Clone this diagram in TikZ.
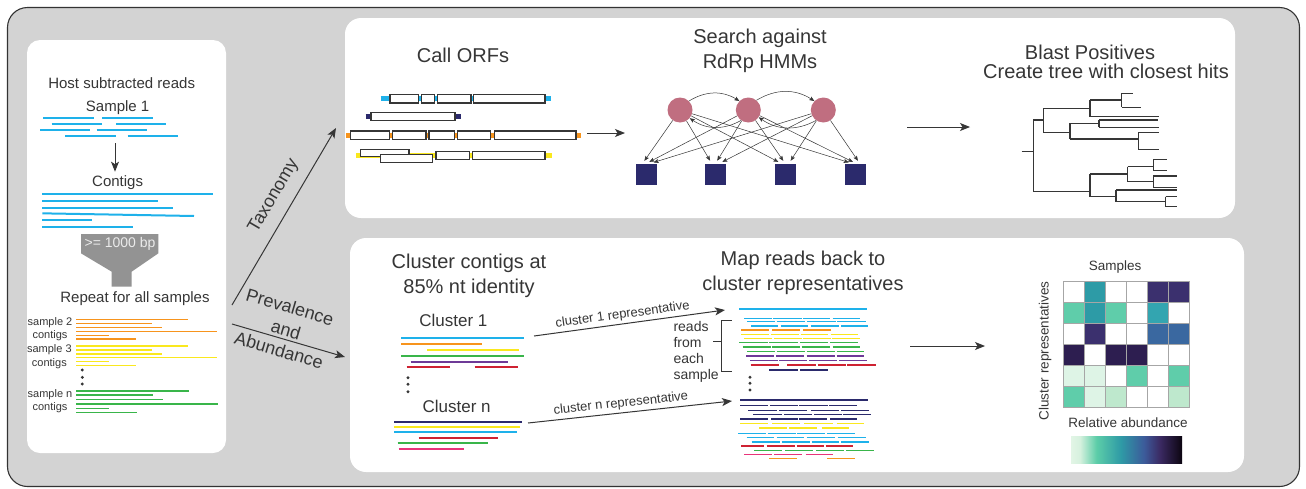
\documentclass[tikz,border=0pt]{standalone}
\usepackage{fontspec}
\setmainfont{Liberation Sans}
\usetikzlibrary{arrows.meta}

\definecolor{txt}{HTML}{363636}
\definecolor{bggray}{HTML}{D3D3D3}
\definecolor{rcyan}{HTML}{1EB1EA}
\definecolor{rorange}{HTML}{F7941D}
\definecolor{ryellow}{HTML}{FAE81E}
\definecolor{rgreen}{HTML}{39B54A}
\definecolor{rpurple}{HTML}{6E3A97}
\definecolor{rred}{HTML}{CE2232}
\definecolor{rnavy}{HTML}{2B2A6C}
\definecolor{rpink}{HTML}{E8347A}
\definecolor{hmmpink}{HTML}{C06E80}
\definecolor{funnelgray}{HTML}{939393}
% heat map cell colours
\definecolor{hteal}{HTML}{2D9BA6}
\definecolor{hteallt}{HTML}{33A5B0}
\definecolor{hdp}{HTML}{3B306E}
\definecolor{hmint}{HTML}{5FCDAA}
\definecolor{hblue}{HTML}{3A68A0}
\definecolor{hvd}{HTML}{2D1E50}
\definecolor{hvl}{HTML}{DEF4E6}
\definecolor{hlm}{HTML}{BEE8CD}
% relative abundance scale
\definecolor{ab0}{HTML}{E2F5E6}
\definecolor{ab1}{HTML}{D6F1DE}
\definecolor{ab2}{HTML}{5CCDA8}
\definecolor{ab3}{HTML}{2E9AA6}
\definecolor{ab4}{HTML}{3C5A9A}
\definecolor{ab5}{HTML}{3B2A63}
\definecolor{ab6}{HTML}{0C0510}
\pgfdeclarehorizontalshading{abund}{100bp}{color(0bp)=(ab0); color(25bp)=(ab0); color(29bp)=(ab1); color(36.5bp)=(ab2); color(47.5bp)=(ab3); color(58bp)=(ab4); color(65bp)=(ab5); color(75bp)=(ab6); color(100bp)=(ab6)}

\tikzset{
  lbl/.style={text=txt, inner sep=0pt},
  ttl/.style={lbl, font=\fontsize{20}{25}\selectfont, align=center},
  mid/.style={lbl, font=\fontsize{15}{18}\selectfont},
  tiny/.style={lbl, font=\fontsize{11}{13.5}\selectfont, align=center},
  small/.style={lbl, font=\fontsize{13.5}{16}\selectfont},
  bigarrow/.style={draw=txt, line width=1pt, -{Stealth[length=10pt,width=8pt,inset=2.5pt]}},
  smallarrow/.style={draw=txt, line width=0.5pt, -{Stealth[length=5pt,width=4pt,inset=1pt]}},
  orfbox/.style={draw=txt, line width=1.1pt, fill=white},
  wpanel/.style={fill=white},
  hmmstate/.style={circle, fill=hmmpink, minimum size=25pt, inner sep=0pt},
  hmmemit/.style={rectangle, fill=rnavy, minimum size=21pt, inner sep=0pt},
  dot/.style={fill=txt},
}

\begin{document}
\begin{tikzpicture}[x=1pt,y=-1pt]
\useasboundingbox (0,0) rectangle (1306,488);

% frame and panels
\draw[line width=1.1pt, draw=black!80, fill=bggray, rounded corners=20pt] (7.5,7.5) rectangle (1299.5,486.5);
\fill[wpanel, rounded corners=13pt] (27,40) rectangle (226,453);
\fill[wpanel, rounded corners=16pt] (345,18) rectangle (1235,218);
\fill[wpanel, rounded corners=16pt] (350,238) rectangle (1244,472);

% ---------------- assembly panel ----------------
\begin{scope}[shift={(20,30)}, x=0.33333pt, y=-0.33333pt]
  \node[mid] (host) at (305,158) {Host subtracted reads};
  \node[mid] (samp1) at (293,232) {Sample 1};
  \foreach \yy/\segs in {263/{70/221,247/398}, 281/{95/245,289/438}, 299/{60/210,230/382}, 318/{135/287,323/475}}
    \foreach \a/\b in \segs
      \draw[rcyan, line width=2pt] (\a,\yy) -- (\b,\yy);
  \coordinate (asm0) at (285,340);
  \coordinate (asm1) at (285,425);
  \draw[bigarrow] (asm0) -- (asm1);
  \node[mid] (contigs) at (293,458) {Contigs};
  \foreach \yy/\b in {493/578, 513/414, 533/460, 570/216, 591/340}
    \draw[rcyan, line width=2pt] (67,\yy) -- (\b,\yy);
  \draw[rcyan, line width=2pt] (67,550) -- (522,558);
\end{scope}

\begin{scope}[shift={(20,240)}, x=0.33333pt, y=-0.33333pt]
  \fill[funnelgray] (183,-18) -- (415,-18) -- (415,40) -- (335,95) -- (335,140)
    -- (275,140) -- (275,95) -- (183,40) -- cycle;
  \node[lbl, text=white!92!black, font=\fontsize{14}{16}\selectfont] (filt) at (300,13) {>= 1000 bp};
  \node[mid] (repeat) at (345,175) {Repeat for all samples};
  \node[tiny] (lab2) at (90,267) {sample 2\\contigs};
  \node[tiny] (lab3) at (88,350) {sample 3\\contigs};
  \node[tiny] (labn) at (90,484) {sample n\\contigs};
  \foreach \yy/\b in {238/503, 250/396, 262/427, 274/590, 286/266, 297/347}
    \draw[rorange, line width=1.6pt] (168,\yy) -- (\b,\yy);
  \foreach \yy/\b in {318/503, 330/396, 342/427, 353/590, 365/266, 376/347}
    \draw[ryellow, line width=1.6pt] (168,\yy) -- (\b,\yy);
  \foreach \yy/\b in {453/508, 465/398, 478/430, 492/595, 505/267, 517/350}
    \draw[rgreen, line width=1.6pt] (168,\yy) -- (\b,\yy);
  \foreach \yy in {390,412,432}
    \fill[dot] (187,\yy) circle[radius=1.6pt];
\end{scope}

% ---------------- branch arrows ----------------
\coordinate (tx0) at (232,305);
\coordinate (tx1) at (336,128);
\draw[bigarrow] (tx0) -- (tx1);
\node[lbl, rotate=59.6, font=\fontsize{18}{20}\selectfont] (taxo) at (274,196) {Taxonomy};
\coordinate (pa0) at (232,324);
\coordinate (pa1) at (345,357);
\draw[bigarrow] (pa0) -- (pa1);
\node[lbl, rotate=-16.3, font=\fontsize{18}{20}\selectfont] (prev) at (290,307) {Prevalence};
\node[lbl, rotate=-16.3, font=\fontsize{18}{20}\selectfont] (andw) at (286,330) {and};
\node[lbl, rotate=-16.3, font=\fontsize{18}{20}\selectfont] (abun) at (279,350) {Abundance};

% ---------------- ORF calling ----------------
\node[ttl] (orf) at (463,55) {Call ORFs};
\begin{scope}[shift={(340,20)}, x=0.33333pt, y=-0.33333pt]
  \draw[rcyan, line width=5pt] (122,236) -- (632,236);
  \foreach \a/\b in {150/235, 245/283, 292/393, 401/615}
    \draw[orfbox] (\a,223) rectangle (\b,249);
  \draw[rnavy, line width=5pt] (77,290) -- (362,290);
  \draw[orfbox] (93,278) rectangle (345,302);
  \draw[rorange, line width=5pt] (18,346) -- (722,346);
  \foreach \a/\b in {32/148, 158/258, 267/343, 352/452, 464/708}
    \draw[orfbox] (\a,333) rectangle (\b,359);
  \draw[ryellow, line width=5pt] (48,407) -- (636,407);
  \draw[orfbox] (62,388) rectangle (207,410);
  \draw[orfbox] (122,403) rectangle (278,428);
  \draw[orfbox] (288,395) rectangle (388,418);
  \draw[orfbox] (397,395) rectangle (615,418);
\end{scope}
\coordinate (orfout) at (587,133);
\coordinate (hmmin) at (625,133);
\draw[bigarrow] (orfout) -- (hmmin);

% ---------------- HMM search ----------------
\node[ttl] (hmmttl) at (760,50.5) {Search against\\RdRp HMMs};
\begin{scope}[shift={(580,20)}, x=0.33333pt, y=-0.33333pt]
  \node[hmmstate] (c1) at (300,270) {};
  \node[hmmstate] (c2) at (505,270) {};
  \node[hmmstate] (c3) at (730,270) {};
  \node[hmmemit] (s1) at (200,462) {};
  \node[hmmemit] (s2) at (407,462) {};
  \node[hmmemit] (s3) at (615,462) {};
  \node[hmmemit] (s4) at (827,462) {};
\end{scope}
\foreach \c/\dx in {c1/-4, c2/0, c3/4}
  \foreach \s in {s1,s2,s3,s4}
    \draw[smallarrow, shorten >=3pt] (\c) -- ([xshift=\dx pt]\s.north);
\draw[smallarrow] (c1.45) to[bend left=32] (c2.135);
\draw[smallarrow] (c2.50) to[bend left=32] (c3.135);
\draw[smallarrow] (c2.235) to[bend left=32] (c1.-40);
\draw[smallarrow] (c3.235) to[bend left=32] (c2.-35);

\coordinate (hmmout) at (907,127);
\coordinate (treein) at (970,127);
\draw[bigarrow] (hmmout) -- (treein);

% ---------------- tree ----------------
\node[ttl] (blast) at (1090,52) {Blast Positives};
\node[ttl] (treettl) at (1106,71) {Create tree with closest hits};
\begin{scope}[shift={(900,20)}, x=0.33333pt, y=-0.33333pt]
  \draw[txt, line width=1.3pt, line cap=square]
    (365,395) -- (400,395)
    (400,300) -- (400,515)
    (400,300) -- (430,300)
    (430,265) -- (430,337)
    (430,265) -- (570,265)
    (570,240) -- (570,290)
    (570,240) -- (665,240)
    (665,220) -- (665,262)
    (665,220) -- (700,220)
    (665,262) -- (722,262)
    (570,290) -- (778,290)
    (430,337) -- (510,337)
    (510,310) -- (510,357)
    (510,310) -- (597,310)
    (597,300) -- (597,322)
    (597,300) -- (775,300)
    (597,322) -- (778,322)
    (510,357) -- (715,357)
    (715,338) -- (715,388)
    (715,338) -- (778,338)
    (715,388) -- (778,388)
    (400,515) -- (570,515)
    (570,462) -- (570,530)
    (570,462) -- (683,462)
    (683,440) -- (683,485)
    (683,440) -- (760,440)
    (760,418) -- (760,452)
    (760,418) -- (800,418)
    (760,452) -- (800,452)
    (683,485) -- (760,485)
    (760,468) -- (760,502)
    (760,468) -- (832,468)
    (760,502) -- (832,502)
    (570,530) -- (648,530)
    (648,510) -- (648,545)
    (648,510) -- (832,510)
    (648,545) -- (797,545)
    (797,530) -- (797,560)
    (797,530) -- (832,530)
    (797,560) -- (832,560);
\end{scope}

% ---------------- clustering ----------------
\node[ttl] (clttl) at (469,275.5) {Cluster contigs at\\85\% nt identity};
\begin{scope}[shift={(340,240)}, x=0.33333pt, y=-0.33333pt]
  \node[lbl, font=\fontsize{17}{20}\selectfont] (cl1) at (340,240) {Cluster 1};
  \node[lbl, font=\fontsize{17}{20}\selectfont] (cln) at (350,500) {Cluster n};
  \draw[rcyan, line width=1.7pt] (183,294) -- (553,294);
  \draw[rorange, line width=1.7pt] (183,312) -- (426,312);
  \draw[ryellow, line width=1.7pt] (262,329) -- (536,329);
  \draw[rgreen, line width=1.7pt] (183,347) -- (553,347);
  \draw[rpurple, line width=1.7pt] (212,365) -- (505,365);
  \draw[rred, line width=1.7pt] (200,382) -- (329,382) (404,382) -- (533,382);
  \foreach \yy in {413,433,455}
    \fill[dot] (204,\yy) circle[radius=1.6pt];
  \draw[rnavy, line width=1.7pt] (162,546) -- (545,546);
  \draw[ryellow, line width=1.7pt] (162,561) -- (540,561);
  \draw[rcyan, line width=1.7pt] (162,577) -- (530,577);
  \draw[rred, line width=1.7pt] (236,594) -- (474,594);
  \draw[rgreen, line width=1.7pt] (173,609) -- (443,609);
  \draw[rpink, line width=1.7pt] (176,626) -- (372,626);
\end{scope}
\coordinate (rep1a) at (534,336);
\coordinate (rep1b) at (725,310);
\draw[bigarrow] (rep1a) -- node[lbl, sloped, above=2.5pt, pos=0.47, font=\fontsize{13}{15}\selectfont] (rep1lbl) {cluster 1 representative} (rep1b);
\coordinate (repna) at (528,423);
\coordinate (repnb) at (732,401);
\draw[bigarrow] (repna) -- node[lbl, sloped, above=2.5pt, pos=0.46, font=\fontsize{13}{15}\selectfont] (repnlbl) {cluster n representative} (repnb);

% ---------------- read mapping ----------------
\node[ttl] (mapttl) at (803,273) {Map reads back to\\cluster representatives};
\begin{scope}[shift={(640,240)}, x=0.33333pt, y=-0.33333pt]
  \foreach \yy/\cc/\segs in {
      207/rcyan/{297/681},
      235/rcyan/{312/395,400/485,490/570,578/660},
      245/rcyan/{322/405,410/495,502/587,592/677},
      258/rcyan/{333/415,422/505,512/597,603/683},
      270/rorange/{303/387,397/480,490/573},
      283/ryellow/{303/387,393/478,482/565,572/655},
      296/ryellow/{313/397,403/487,490/573,577/660},
      308/rgreen/{298/383,388/473,480/565,570/653},
      321/rgreen/{308/392,397/480,485/570,578/660},
      335/rgreen/{322/405,410/495,500/585,590/673},
      348/rpurple/{318/402,408/492,500/585,590/673},
      361/rpurple/{330/413,418/502,508/592,598/682},
      375/rred/{332/417,442/527,533/618,622/707},
      390/rnavy/{388/473,480/563},
      480/rnavy/{300/683},
      497/rnavy/{300/383,390/473,478/563,568/652},
      512/rnavy/{325/410,417/500,512/597,603/687},
      524/rnavy/{340/425,432/517,522/605,610/693},
      537/rnavy/{300/385,393/473,478/562,570/650},
      551/ryellow/{300/383,397/480,493/578,590/673},
      564/ryellow/{357/440,448/530,545/628},
      580/rcyan/{295/378,383/467,472/555,562/645},
      593/rcyan/{320/403,410/493,500/585,593/677},
      606/rcyan/{335/420,425/510,515/598,603/687},
      618/rred/{303/373,380/465,470/553,557/640},
      631/rgreen/{343/427,435/518,528/612,618/702},
      644/rpink/{313/397,403/487,497/580},
      656/rorange/{387/470,562/645}}
    \foreach \a/\b in \segs
      \draw[\cc, line width=1.5pt] (\a,\yy) -- (\b,\yy);
  \draw[txt, line width=1pt] (275,240) -- (245,240) -- (245,395) -- (275,395);
  \draw[txt, line width=1pt] (220,305) -- (245,305);
  \node[lbl, font=\fontsize{14}{16}\selectfont, align=left, anchor=west] (rdtxt) at (100,336) {reads\\from\\each\\sample};
  \foreach \yy in {412,430,450}
    \fill[dot] (330,\yy) circle[radius=1.6pt];
\end{scope}
\coordinate (mapout) at (910,346);
\coordinate (heatin) at (985,346);
\draw[bigarrow] (mapout) -- (heatin);

% ---------------- abundance heat map ----------------
\node[small] (samples) at (1115,267) {Samples};
\node[small, rotate=90] (clrep) at (1045,351) {Cluster representatives};
\foreach \row [count=\r from 0] in {
    {white,hteal,white,white,hdp,hdp},
    {hmint,hteal,hmint,white,hteallt,white},
    {white,hdp,white,white,hblue,hblue},
    {hvd,white,hvd,hvd,white,white},
    {hvl,hvl,white,hmint,white,hmint},
    {hmint,hvl,hlm,white,white,hlm}}
  \foreach \cc [count=\c from 0] in \row
    \draw[fill=\cc, draw=black!35, line width=0.7pt] (1063+21*\c,281+21*\r) rectangle ++(21,21);
\node[small] (relab) at (1128,423) {Relative abundance};
\shade[shading=abund] (1071,436) rectangle (1182,463);

\end{tikzpicture}
\end{document}
